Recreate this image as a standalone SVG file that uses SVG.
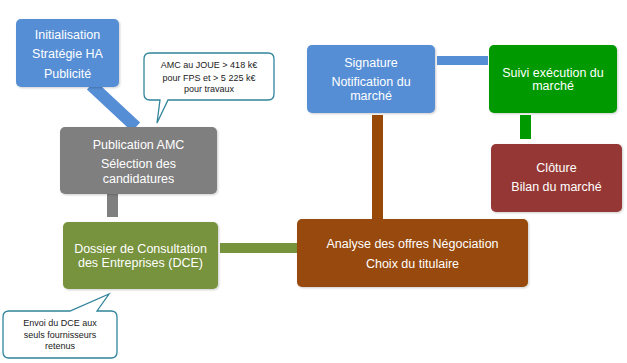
<svg xmlns="http://www.w3.org/2000/svg" width="627" height="363" viewBox="0 0 627 363">
<style>
.n text{font-family:"Liberation Sans",Arial,sans-serif;font-size:12.5px;fill:#fff;text-anchor:middle}
.c text{font-family:"Liberation Sans",Arial,sans-serif;font-size:9px;fill:#1a1a1a;text-anchor:middle}
.c path{fill:#fff;stroke:#31849B;stroke-width:1.3}
</style>
<defs>
<filter id="sh" x="-10%" y="-10%" width="130%" height="130%">
<feDropShadow dx="1" dy="1" stdDeviation="1" flood-color="#000" flood-opacity="0.2"/>
</filter>
</defs>
<rect width="627" height="363" fill="#fff"/>
<g id="connectors">
<line x1="91" y1="85" x2="136" y2="127" stroke="#558ED5" stroke-width="12"/>
<rect x="107" y="194" width="11" height="23" fill="#7F7F7F"/>
<rect x="220" y="243" width="77" height="10" fill="#77933C"/>
<rect x="372" y="115" width="11" height="104" fill="#984807"/>
<rect x="437" y="56" width="51" height="9" fill="#558ED5"/>
<rect x="520" y="115" width="11" height="24" fill="#009900"/>
</g>
<g id="init" class="n"><rect x="16" y="19" width="103" height="68" rx="5" fill="#558ED5" filter="url(#sh)"/>
<text x="67.5" y="39">Initialisation</text><text x="67.5" y="58">Stratégie HA</text><text x="67.5" y="78">Publicité</text></g>
<g id="callout-amc" class="c"><path d="M150,53 H268 Q274,53 274,59 V94 Q274,100 268,100 H168 L157,123 L160,100 H150 Q144,100 144,94 V59 Q144,53 150,53 Z"/>
<text x="209" y="68">AMC au JOUE &gt; 418 k€</text><text x="209" y="81">pour FPS et &gt; 5 225 k€</text><text x="209" y="92">pour travaux</text></g>
<g id="publication" class="n"><rect x="60" y="127" width="157" height="67" rx="5" fill="#7F7F7F" filter="url(#sh)"/>
<text x="138.5" y="149">Publication AMC</text><text x="138.5" y="168">Sélection des</text><text x="138.5" y="183">candidatures</text></g>
<g id="dce" class="n"><rect x="63" y="222" width="155" height="67" rx="5" fill="#77933C" filter="url(#sh)"/>
<text x="140.5" y="253">Dossier de Consultation</text><text x="140.5" y="267">des Entreprises (DCE)</text></g>
<g id="callout-dce" class="c"><path d="M9,311 H70 L109,294 L97,311 H111 Q117,311 117,317 V352 Q117,358 111,358 H9 Q3,358 3,352 V317 Q3,311 9,311 Z"/>
<text x="60" y="326">Envoi du DCE aux</text><text x="60" y="338">seuls fournisseurs</text><text x="60" y="349">retenus</text></g>
<g id="analyse" class="n"><rect x="297" y="219" width="231" height="68" rx="5" fill="#984807" filter="url(#sh)"/>
<text x="412.5" y="248">Analyse des offres Négociation</text><text x="412.5" y="268">Choix du titulaire</text></g>
<g id="signature" class="n"><rect x="307" y="45" width="128" height="68" rx="5" fill="#558ED5" filter="url(#sh)"/>
<text x="371" y="67">Signature</text><text x="371" y="86">Notification du</text><text x="371" y="100">marché</text></g>
<g id="suivi" class="n"><rect x="489" y="45" width="128" height="68" rx="5" fill="#009900" filter="url(#sh)"/>
<text x="553" y="77">Suivi exécution du</text><text x="553" y="90">marché</text></g>
<g id="cloture" class="n"><rect x="491" y="144" width="131" height="68" rx="5" fill="#953735" filter="url(#sh)"/>
<text x="556.5" y="172">Clôture</text><text x="556.5" y="191">Bilan du marché</text></g>
</svg>
